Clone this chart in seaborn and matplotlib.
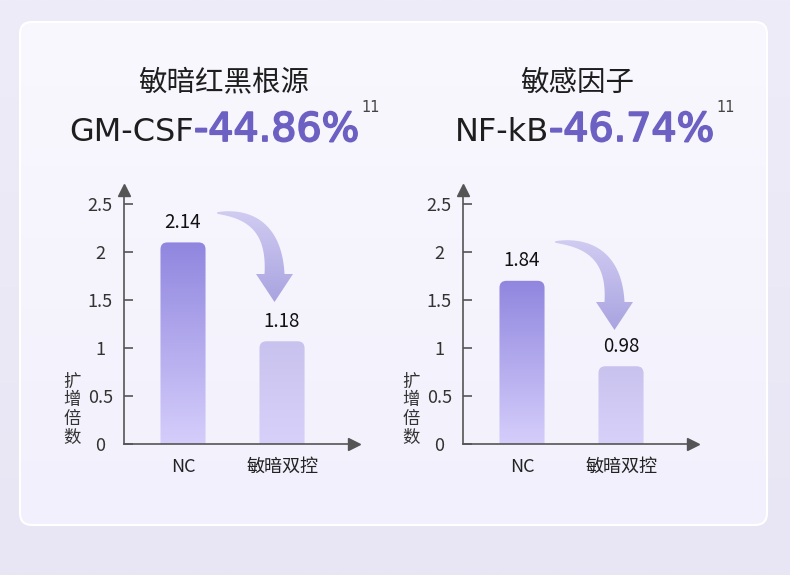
import numpy as np
import pandas as pd
import matplotlib
matplotlib.use('Agg')
import matplotlib.pyplot as plt
import matplotlib.patheffects as pe
import seaborn as sns
from matplotlib.patches import FancyBboxPatch, Polygon
from matplotlib.colors import LinearSegmentedColormap

# values
groups = ['NC', '敏暗双控']
gmcsf_heights = [2.10, 1.07]      # bar heights as drawn
gmcsf_labels = ['2.14', '1.18']   # printed values
nfkb_heights = [1.70, 0.81]
nfkb_labels = ['1.84', '0.98']
titles = ['敏暗红黑根源', '敏感因子']
markers = ['GM-CSF', 'NF-kB']
changes = ['-44.86%', '-46.74%']
refs = ['11', '11']
yticks = [0, 0.5, 1, 1.5, 2, 2.5]
ytick_labels = ['0', '0.5', '1', '1.5', '2', '2.5']
ylabel = '扩\n增\n倍\n数'

sns.set_style('white')
plt.rcParams['font.family'] = ['Noto Sans CJK SC', 'DejaVu Sans']

W, H = 790, 575
fig = plt.figure(figsize=(W / 100, H / 100), dpi=100)
PURPLE = '#6C60C2'


def px(l, t, r, b):
    # pixel box -> figure fraction rect
    return [l / W, 1 - b / H, (r - l) / W, (b - t) / H]


def vgrad(ax, c_top, c_bot, extent, clip=None, zorder=1):
    cmap = LinearSegmentedColormap.from_list('g', [c_top, c_bot])
    img = ax.imshow(np.linspace(0, 1, 256).reshape(-1, 1), cmap=cmap, extent=extent,
                    origin='upper', aspect='auto', zorder=zorder, interpolation='bilinear')
    if clip is not None:
        img.set_clip_path(clip)
    return img


# background + card (pixel coords, y down)
bg = fig.add_axes([0, 0, 1, 1])
bg.axis('off')
vgrad(bg, '#EEECF8', '#E8E6F4', (0, W, H, 0), zorder=0)
card = FancyBboxPatch((20, 22), 747, 503, boxstyle='round,pad=0,rounding_size=12',
                      fc='none', ec='white', lw=1.5, zorder=2)
bg.add_patch(card)
vgrad(bg, '#F9F8FE', '#F2F0FC', (20, 767, 525, 22), clip=card, zorder=1)


def curved_arrow(sx, sy, hx, hy):
    t = np.linspace(0, 1, 80)
    cx, cy = hx, sy
    x = (1 - t) ** 2 * sx + 2 * (1 - t) * t * cx + t ** 2 * hx
    y = (1 - t) ** 2 * sy + 2 * (1 - t) * t * cy + t ** 2 * hy
    dx = 2 * (1 - t) * (cx - sx) + 2 * t * (hx - cx)
    dy = 2 * (1 - t) * (cy - sy) + 2 * t * (hy - cy)
    n = np.hypot(dx, dy)
    nx, ny = -dy / n, dx / n
    half = 0.5 + 9.5 * t ** 0.7
    side_a = np.column_stack([x + nx * half, y + ny * half])
    side_b = np.column_stack([x - nx * half, y - ny * half])[::-1]
    head = np.array([[hx - 18.5, hy], [hx, hy + 28], [hx + 18.5, hy]])
    poly = Polygon(np.vstack([side_a, head, side_b]), closed=True, fc='none', ec='none', zorder=3)
    bg.add_patch(poly)
    vgrad(bg, '#D4D0F3', '#A9A3E0', (sx - 2, hx + 30, hy + 29, sy - 12), clip=poly, zorder=3)


curved_arrow(217, 213, 274.5, 274)
curved_arrow(555, 242, 614.5, 302)

bg.set_xlim(0, W)
bg.set_ylim(H, 0)

# headings
renderer = fig.canvas.get_renderer()
for title, tx, marker, change, ref, junction in zip(titles, [224, 577], markers, changes, refs, [194, 549]):
    bg.text(tx, 83, title, ha='center', va='center', fontsize=20.5, color='#1E1E1E', zorder=5)
    bg.text(junction, 141, marker, ha='right', va='baseline', fontsize=23,
            family='DejaVu Sans', color='#1E1E1E', zorder=5)
    t2 = bg.text(junction, 141, change, ha='left', va='baseline', fontsize=28.5,
                 family='DejaVu Sans', color=PURPLE, zorder=5,
                 path_effects=[pe.withStroke(linewidth=1.3, foreground=PURPLE)])
    bb = t2.get_window_extent(renderer)
    x_end = bg.transData.inverted().transform((bb.x1, 0))[0]
    bg.text(x_end + 2, 112, ref, ha='left', va='baseline', fontsize=10.5,
            family=['Liberation Sans Narrow', 'DejaVu Sans'], color='#444444', zorder=5)

bar_colors = [('#9086DF', '#D5CEFB'), ('#C8C2EE', '#D7D1FA')]


def draw_chart(left, heights, labels):
    ax = fig.add_axes(px(left, 190, left + 230, 444))
    ax.patch.set_alpha(0)
    df = pd.DataFrame({'group': groups, 'value': heights})
    sns.barplot(data=df, x='group', y='value', ax=ax, width=0.455, color='#A59CE6')
    for p, (ctop, cbot) in zip(ax.patches, bar_colors):
        p.set_facecolor('none')
        p.set_edgecolor('none')
        x0, w, h = p.get_x(), p.get_width(), p.get_height()
        rb = FancyBboxPatch((x0, -0.1), w, h + 0.1, boxstyle='round,pad=0,rounding_size=0.07',
                            mutation_aspect=1.03, fc='none', ec='none')
        ax.add_patch(rb)
        vgrad(ax, ctop, cbot, (x0, x0 + w, 0, h), clip=rb, zorder=2)
    ax.bar_label(ax.containers[0], labels=labels, padding=7, fontsize=13.5,
                 fontweight='medium', color='#111111')

    sns.despine(ax=ax)
    for s in ['left', 'bottom']:
        ax.spines[s].set_color('#555555')
        ax.spines[s].set_linewidth(1.2)
    ax.plot(0, 1, marker='^', ms=9, color='#555555', transform=ax.transAxes, clip_on=False)
    ax.plot(1, 0, marker='>', ms=9, color='#555555', transform=ax.transAxes, clip_on=False)

    ax.set_yticks(yticks, ytick_labels)
    ax.tick_params(axis='y', left=True, direction='in', length=6.5, width=1.2, color='#555555',
                   pad=17, labelsize=13, labelcolor='#333333')
    for lab in ax.get_yticklabels():
        lab.set_ha('center')
    ax.tick_params(axis='x', bottom=False, length=0, pad=10, labelsize=13, labelcolor='#222222')
    ax.set_xlabel('')
    ax.set_ylabel(ylabel, rotation=0, fontsize=12.5, linespacing=1.05, color='#333333',
                  ha='center', va='bottom')
    ax.yaxis.set_label_coords(-52 / 230, -0.01)
    ax.set_xlim(-0.596, 1.727)
    ax.set_ylim(0, 2.646)
    return ax


draw_chart(124, gmcsf_heights, gmcsf_labels)
draw_chart(463, nfkb_heights, nfkb_labels)

fig.savefig('out.png', dpi=100)
